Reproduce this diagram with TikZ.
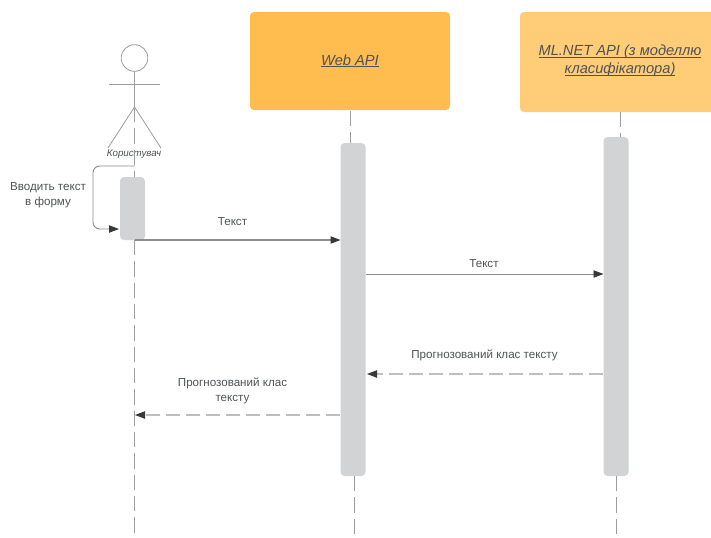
\documentclass[tikz,border=0pt]{standalone}
\usepackage{fontspec}
\setmainfont{Liberation Sans}
\usetikzlibrary{arrows.meta}
\newsavebox\ulbox
\newcommand\ulx[1]{\sbox\ulbox{#1}\leavevmode\rlap{\rule[-1.5pt]{\wd\ulbox}{0.75pt}}\usebox\ulbox}
\definecolor{txt}{HTML}{4F5256}
\definecolor{ln}{HTML}{9A9C9E}
\definecolor{actfill}{HTML}{D1D3D5}
\definecolor{boxa}{HTML}{FFBC4F}
\definecolor{boxb}{HTML}{FFCC77}
\tikzset{
  x=0.75pt,y=-0.75pt,
  box/.style={rounded corners=3pt,inner sep=0pt,outer sep=0pt,text=txt,font=\fontsize{11}{13.5}\selectfont\itshape,align=center},
  activation/.style={fill=actfill,rounded corners=3pt,inner sep=0pt,outer sep=0pt,minimum width=18.75pt},
  lifeline/.style={draw=ln,line width=0.6pt,dash pattern=on 11.5pt off 4.5pt},
  lbl/.style={text=txt,font=\fontsize{8.7}{11.2}\selectfont,align=center,inner sep=0pt},
  msg/.style={draw=ln!90!black,line width=0.7pt,-{Triangle[length=7.5pt,width=5.5pt,color=black!78]}},
  reply/.style={msg,draw=black!25,line width=0.85pt,dash pattern=on 10.5pt off 4.5pt},
  stick/.style={draw=ln,line width=0.6pt}
}
\begin{document}
\begin{tikzpicture}
\useasboundingbox (0,0) rectangle (711,537);
% participant boxes
\node[box,fill=boxa,minimum width=150pt,minimum height=73.5pt] (web) at (350,61) {\ulx{Web API}};
\path[fill=boxb,rounded corners=3pt] (520,12) rectangle (730,112);
\clip (0,0) rectangle (711,537);
\coordinate (mlbot) at (620,112);
\node[lbl,font=\fontsize{11}{13.5}\selectfont\itshape] (ml) at (620,61) {\ulx{ML.NET API (з моделлю}\\\ulx{класифікатора)}};
% actor
\node[circle,draw=ln,line width=0.6pt,minimum size=20pt,inner sep=0pt,outer sep=0pt] (head) at (134.5,58) {};
\coordinate (hip) at (134.5,107);
\coordinate (armL) at (109,84);
\coordinate (armR) at (160,84);
\coordinate (footL) at (108,148);
\coordinate (footR) at (161,148);
\draw[stick] (head.south) -- (hip);
\draw[stick] (armL) -- (armR);
\draw[stick] (footL) -- (hip) -- (footR);
\node[text=txt,font=\fontsize{7.3}{8}\selectfont\itshape,inner sep=0pt] (user) at (134,154.5) {Користувач};
% activations
\node[activation,minimum height=47.25pt] (a1) at (132.5,208.5) {};
\node[activation,minimum height=249.75pt] (a2) at (353,309.5) {};
\node[activation,minimum height=254.25pt] (a3) at (616,306.5) {};
% lifelines
\coordinate (u0) at (134.5,107);
\coordinate (u1) at (134.5,177);
\coordinate (u2) at (134.5,240);
\coordinate (u3) at (134.5,537);
\coordinate (w3) at (354,476);
\coordinate (w4) at (354,537);
\coordinate (m3) at (616,476);
\coordinate (m4) at (616,537);
\draw[lifeline] (u0) -- (u1);
\draw[lifeline] (u2) -- (u3);
\draw[lifeline] (web.south) ++(0,1) -- (a2.north -| web.south);
\draw[lifeline] (mlbot) -- (a3.north -| mlbot);
\draw[lifeline] (w3) -- (w4);
\draw[lifeline] (m3) -- (m4);
% messages
\coordinate (s0) at (134.5,166);
\coordinate (s1) at (119,229);
\draw[msg,rounded corners=5pt] (s0) -- (93,166) -- (93,229) -- (s1);
\coordinate (t1) at (134.5,240);
\draw[msg,line width=0.85pt] (t1) -- (a2.west |- t1);
\coordinate (t2) at (366,274);
\draw[msg] (t2) -- (a3.west |- t2);
\coordinate (r1) at (603,374);
\coordinate (r1e) at (367,374);
\draw[reply] (r1) -- (r1e);
\coordinate (r2) at (340,415);
\coordinate (r2e) at (135,415);
\draw[reply] (r2) -- (r2e);
% labels
\node[lbl] (l0) at (48,195.5) {Вводить текст\\в форму};
\node[lbl] (l1) at (232.5,222) {Текст};
\node[lbl] (l2) at (484,264) {Текст};
\node[lbl] (l3) at (484.5,355.5) {Прогнозований клас тексту};
\node[lbl] (l4) at (232.5,391) {Прогнозований клас\\тексту};
\end{tikzpicture}
\end{document}
